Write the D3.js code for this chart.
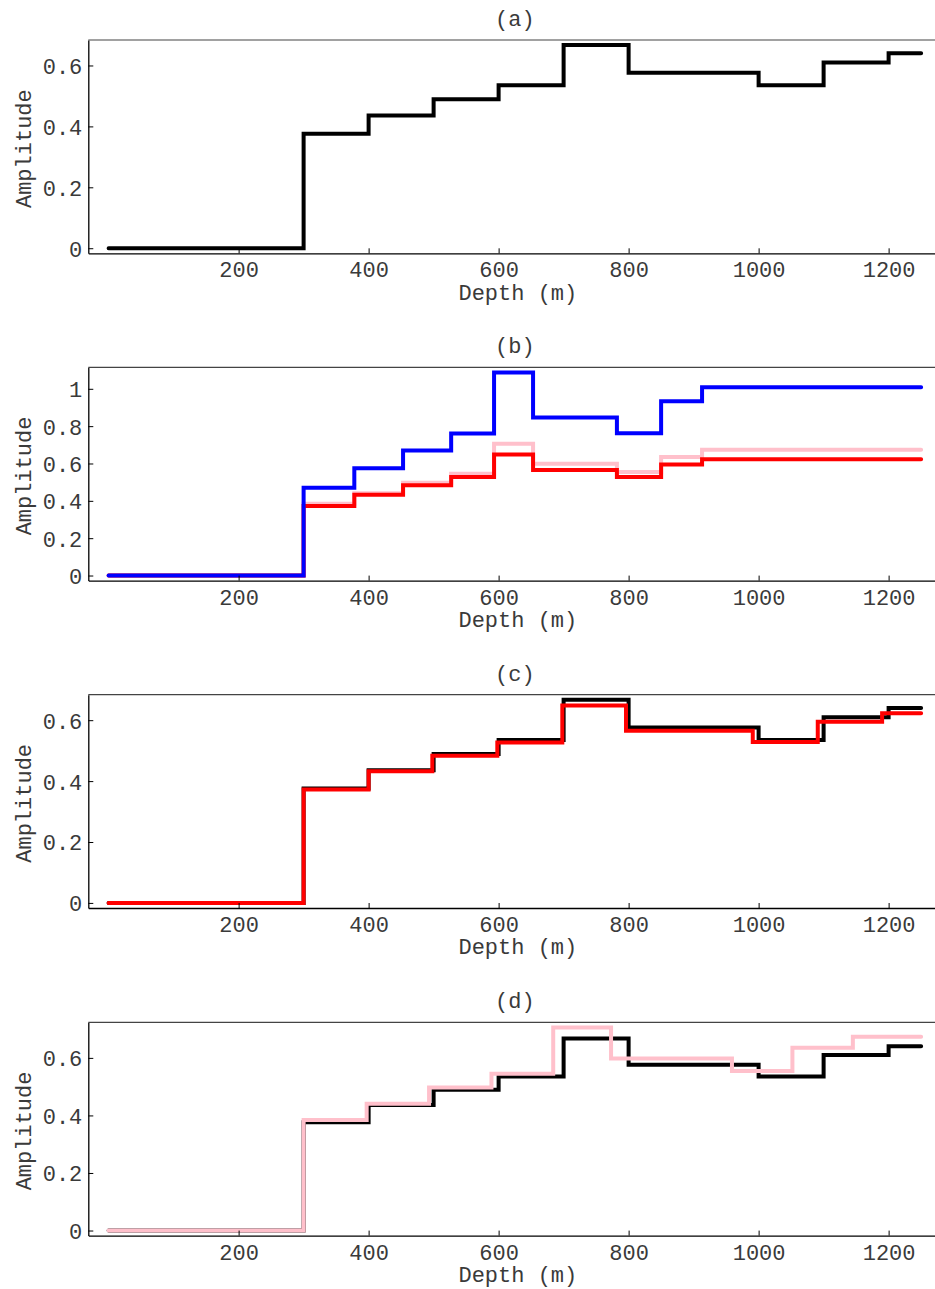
<!DOCTYPE html>
<html>
<head>
<meta charset="utf-8">
<script src="https://cdn.jsdelivr.net/npm/d3@7"></script>
<style>
  html, body { margin: 0; padding: 0; background: #fff; overflow: hidden; }
  svg { display: block; }
  text { font-family: "Liberation Mono", "Courier New", monospace; fill: #3a3a3a; }
</style>
</head>
<body>
<svg id="chart" width="935" height="1289"></svg>
<script>
// Depth extent of every trace (m)
const depthEnd = 1250;

// True layered model: layer tops (m) and amplitude of each layer
const trueTops = [0, 300, 400, 500, 600, 700, 800, 1000, 1100, 1200];
const trueAmp  = [0, 0.376, 0.436, 0.489, 0.535, 0.667, 0.576, 0.535, 0.610, 0.640];

// Estimates placed on the uncorrected (stretched) depth axis
const stretchedTops = [0, 300, 378, 453, 527, 593, 653, 782, 850, 913];
const blueAmp = [0, 0.470, 0.575, 0.669, 0.760, 1.088, 0.847, 0.762, 0.934, 1.009];
const redAmp  = [0, 0.372, 0.432, 0.483, 0.527, 0.648, 0.565, 0.528, 0.595, 0.623];
const pinkAmp = [0, 0.384, 0.441, 0.497, 0.545, 0.706, 0.598, 0.554, 0.635, 0.673];

// Layer tops after depth correction
const redCorrectedTops  = [0, 300, 400, 498, 598, 698, 796, 991, 1091, 1190];
const pinkCorrectedTops = [0, 300, 397, 493, 589, 684, 773, 959, 1052, 1145];

// Axis ticks
const xTicks = [200, 400, 600, 800, 1000, 1200];
const yTicksSmall = [0, 0.2, 0.4, 0.6];
const yTicksLarge = [0, 0.2, 0.4, 0.6, 0.8, 1];

const panelTitles = ["(a)", "(b)", "(c)", "(d)"];

const panels = [
  { title: panelTitles[0], yTicks: yTicksSmall,
    series: [ { tops: trueTops, amp: trueAmp, color: "#000000" } ] },
  { title: panelTitles[1], yTicks: yTicksLarge,
    series: [ { tops: stretchedTops, amp: pinkAmp, color: "#ffc0cb" },
              { tops: stretchedTops, amp: redAmp,  color: "#ff0000" },
              { tops: stretchedTops, amp: blueAmp, color: "#0000ff" } ] },
  { title: panelTitles[2], yTicks: yTicksSmall,
    series: [ { tops: trueTops, amp: trueAmp, color: "#000000" },
              { tops: redCorrectedTops, amp: redAmp, color: "#ff0000" } ] },
  { title: panelTitles[3], yTicks: yTicksSmall,
    series: [ { tops: trueTops, amp: trueAmp, color: "#000000" },
              { tops: pinkCorrectedTops, amp: pinkAmp, color: "#ffc0cb" } ] }
];

// Layout
const left = 88.3, plotH = 213.3;
const panelTops = [40, 367.3, 694.7, 1022.3];
const pad = 0.025;
const fontSize = 22;

const xDomain = [-pad * depthEnd, depthEnd * (1 + pad)];
const pxPerMeter = 0.65;
const plotW = (xDomain[1] - xDomain[0]) * pxPerMeter;

const svg = d3.select("#chart");

function toPoints(tops, amp) {
  const pts = tops.map((t, i) => [t, amp[i]]);
  pts.push([depthEnd, amp[amp.length - 1]]);
  return pts;
}

panels.forEach((p, idx) => {
  const top = panelTops[idx];
  const g = svg.append("g").attr("transform", `translate(${left},${top})`);

  const x = d3.scaleLinear().domain(xDomain).range([0, plotW]);
  const maxV = d3.max(p.series, s => d3.max(s.amp));
  const y = d3.scaleLinear().domain([-pad * maxV, maxV * (1 + pad)]).range([plotH, 0]);

  // Traces
  const line = d3.line().x(d => x(d[0])).y(d => y(d[1])).curve(d3.curveStepAfter);
  p.series.forEach(s => {
    g.append("path")
      .datum(toPoints(s.tops, s.amp))
      .attr("fill", "none")
      .attr("stroke", s.color)
      .attr("stroke-width", 4)
      .attr("stroke-linecap", "round")
      .attr("stroke-linejoin", "miter")
      .attr("d", line);
  });

  // Bottom axis with inward ticks
  const xa = g.append("g").attr("transform", `translate(0,${plotH})`)
    .call(d3.axisBottom(x).tickValues(xTicks).tickSize(-5).tickSizeOuter(0).tickFormat(d3.format("d")));
  xa.select(".domain").attr("stroke", "#000").attr("stroke-width", 1.3);
  xa.selectAll(".tick line").attr("stroke", "#000");
  xa.selectAll(".tick text").attr("y", 16).attr("dy", "0.36em")
    .style("font-size", fontSize + "px").attr("fill", "#3a3a3a");

  // Left axis with inward ticks
  const ya = g.append("g")
    .call(d3.axisLeft(y).tickValues(p.yTicks).tickSize(-5).tickSizeOuter(0).tickFormat(d => String(d)));
  ya.select(".domain").attr("stroke", "#000").attr("stroke-width", 1.3);
  ya.selectAll(".tick line").attr("stroke", "#000");
  ya.selectAll(".tick text").attr("x", -6).attr("dy", "0.36em")
    .style("font-size", fontSize + "px").attr("fill", "#3a3a3a");

  // Top spine
  g.append("line").attr("x1", 0).attr("x2", plotW).attr("y1", 0).attr("y2", 0)
    .attr("stroke", "#444").attr("stroke-width", 1.2);

  // Labels
  g.append("text").attr("x", plotW / 2).attr("y", -22).attr("dy", "0.36em")
    .attr("text-anchor", "middle").style("font-size", fontSize + "px").text(p.title);
  g.append("text").attr("x", (x(0) + x(1250)) / 2 + 3).attr("y", plotH + 38.5).attr("dy", "0.36em")
    .attr("text-anchor", "middle").style("font-size", fontSize + "px").text("Depth (m)");
  g.append("text")
    .attr("transform", `translate(${23 - left},${plotH / 2 + 2}) rotate(-90)`)
    .attr("dy", "0.36em").attr("text-anchor", "middle")
    .style("font-size", fontSize + "px").text("Amplitude");
});
</script>
</body>
</html>
